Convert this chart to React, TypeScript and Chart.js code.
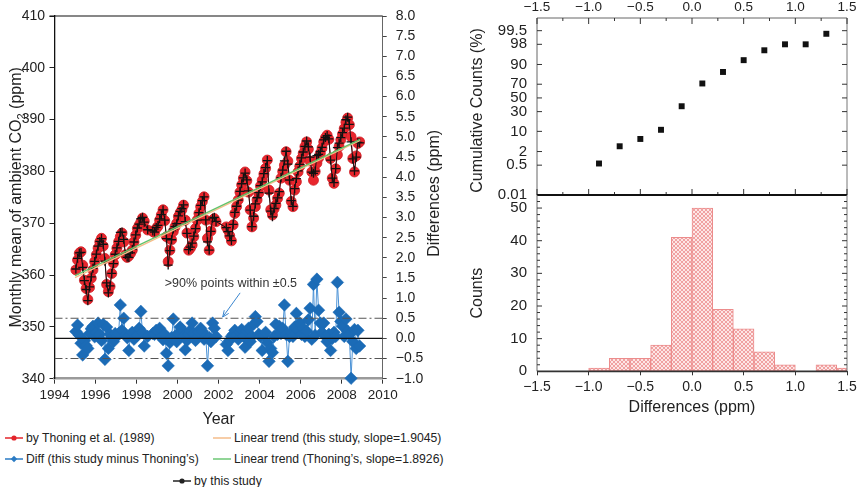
import { useEffect, useRef } from "react"
import { Chart, registerables, type ChartConfiguration, type Plugin } from "chart.js"

Chart.register(...registerables)

const FONT = "'Liberation Sans', Arial, Helvetica, sans-serif"
Chart.defaults.font.family = FONT
Chart.defaults.color = "#222"

// months that have a monthly mean (gaps in 1998, 2001-2002)
const obsMonths = [
  "1995-01", "1995-02", "1995-03", "1995-04", "1995-05", "1995-06", "1995-07", "1995-08", "1995-09", "1995-10", "1995-11", "1995-12",
  "1996-01", "1996-02", "1996-03", "1996-04", "1996-05", "1996-06", "1996-07", "1996-08", "1996-09", "1996-10", "1996-11", "1996-12",
  "1997-01", "1997-02", "1997-03", "1997-04", "1997-05", "1997-06", "1997-07", "1997-08", "1997-09", "1997-10", "1997-11", "1997-12",
  "1998-01", "1998-02", "1998-03", "1998-04", "1998-05", "1998-07", "1998-10", "1998-11", "1998-12",
  "1999-01", "1999-02", "1999-03", "1999-04", "1999-05", "1999-06", "1999-07", "1999-08", "1999-09", "1999-10", "1999-11", "1999-12",
  "2000-01", "2000-02", "2000-03", "2000-04", "2000-05", "2000-06", "2000-07", "2000-08", "2000-09", "2000-10", "2000-11", "2000-12",
  "2001-01", "2001-02", "2001-03", "2001-04", "2001-05", "2001-06", "2001-07", "2001-08", "2001-09", "2001-10", "2001-11",
  "2002-05", "2002-06", "2002-07", "2002-08", "2002-09", "2002-10", "2002-11", "2002-12",
  "2003-01", "2003-02", "2003-03", "2003-04", "2003-05", "2003-06", "2003-07", "2003-08", "2003-09", "2003-10", "2003-11", "2003-12",
  "2004-01", "2004-02", "2004-03", "2004-04", "2004-05", "2004-06", "2004-07", "2004-08", "2004-09", "2004-10", "2004-11", "2004-12",
  "2005-01", "2005-02", "2005-03", "2005-04", "2005-05", "2005-06", "2005-07", "2005-08", "2005-09", "2005-10", "2005-11", "2005-12",
  "2006-01", "2006-02", "2006-03", "2006-04", "2006-05", "2006-06", "2006-07", "2006-08", "2006-09", "2006-10", "2006-11", "2006-12",
  "2007-01", "2007-02", "2007-03", "2007-04", "2007-05", "2007-06", "2007-07", "2007-08", "2007-09", "2007-10", "2007-11", "2007-12",
  "2008-01", "2008-02", "2008-03", "2008-04", "2008-05", "2008-06", "2008-07", "2008-08", "2008-09", "2008-10", "2008-11",
]

// monthly mean CO2 by Thoning et al. (1989), ppm
const thoning = [
  361.0, 362.9, 364.2, 364.5, 361.9, 359.0, 357.4, 355.3, 357.6, 359.4, 361.0, 362.6,
  363.9, 365.2, 366.4, 367.1, 365.6, 363.2, 358.2, 356.8, 357.8, 360.3, 362.3, 363.9,
  365.2, 366.4, 367.4, 368.1, 366.4, 363.9, 363.4, 363.7, 364.2, 364.8, 366.4, 367.7,
  369.0, 369.6, 370.2, 371.0, 370.4, 368.7, 368.4, 368.2, 369.0,
  369.4, 370.6, 371.6, 372.6, 370.5, 367.4, 362.6, 364.8, 366.8, 368.4, 369.3, 370.0,
  371.3, 372.0, 372.6, 373.5, 370.6, 368.1, 364.8, 365.2, 365.8, 367.4, 369.0, 370.6,
  371.9, 373.2, 374.2, 375.1, 370.6, 367.1, 364.8, 368.5, 370.6, 370.9, 370.3,
  369.3, 368.7, 367.6, 366.6, 369.7, 371.9, 373.2, 374.5,
  376.0, 377.4, 378.7, 379.9, 378.2, 376.0, 372.6, 369.3, 371.0, 373.2, 374.5, 375.8,
  377.2, 378.3, 379.5, 380.6, 382.2, 376.4, 372.6, 371.6, 372.8, 373.5, 374.8, 375.8,
  378.7, 380.0, 381.2, 383.8, 382.0, 378.3, 374.2, 373.2, 376.4, 378.0, 379.9, 381.0,
  382.5, 383.5, 384.8, 385.7, 384.3, 382.0, 379.9, 378.3, 380.0, 381.6, 382.6, 383.5,
  384.5, 385.7, 386.5, 387.0, 386.2, 382.5, 378.7, 377.7, 380.5, 383.2, 384.8, 386.1,
  387.2, 388.3, 389.5, 390.3, 389.0, 386.7, 382.5, 379.9, 383.0, 385.4, 385.7,
]

// this study minus Thoning's, ppm
const diffs = [
  0.17, 0.33, 0.08, -0.12, -0.41, -0.06, -0.18, -0.25, 0.12, 0.24, 0.3, 0.04,
  0.15, 0.38, 0.1, -0.05, 0.35, -0.52, 0.28, -0.25, 0.1, 0.02, -0.08, 0.12,
  0.05, 0.12, 0.83, 0.2, 0.5, 0.08, 0.02, -0.3, 0.1, 0.15, -0.02, 0.05,
  0.08, 0.25, 0.67, 0.15, -0.19, 0.05, 0.12, 0.1, 0.2,
  0.18, 0.25, 0.05, -0.03, 0.1, -0.37, -0.68, -0.1, 0.02, 0.48, 0.05, -0.08,
  0.12, 0.28, 0.22, 0.05, -0.28, -0.05, 0.1, 0.2, 0.38, 0.12, -0.05, 0.02,
  0.15, 0.25, 0.18, -0.02, 0.05, -0.68, 0.02, -0.08, 0.38, 0.25, 0.05,
  -0.15, -0.3, -0.05, 0.05, 0.1, 0.2, 0.08, -0.02,
  0.15, 0.22, 0.05, -0.22, 0.18, 0.25, -0.08, 0.05, 0.35, 0.54, 0.42, 0.1,
  0.05, -0.3, 0.08, 0.15, -0.1, -0.57, -0.25, -0.35, 0.05, 0.35, 0.1, 0.3,
  0.12, 0.25, 0.83, 0.1, -0.57, 0.05, 0.15, 0.05, 0.28, 0.62, 0.2, 0.38,
  0.1, 0.25, 0.05, 0.18, 0.46, 0.75, -0.02, 1.34, 0.08, 1.47, 0.7, 0.38,
  0.15, 0.38, 0.05, -0.08, 0.1, -0.3, 0.0, 0.15, 0.05, 1.39, 0.65, 0.42,
  0.3, 0.05, 0.48, 0.18, 0.1, -0.99, -0.08, 0.22, -0.25, 0.2, -0.19,
]

// linear trends: end values
const trendYears = [1995.0, 2008.9]
const trendThisStudy = [359.5, 386.0]
const trendThoning = [359.9, 386.2]
const band = 0.5

// cumulative counts (probability plot) and histogram of the differences
const binCenters = [-0.9, -0.7, -0.5, -0.3, -0.1, 0.1, 0.3, 0.5, 0.7, 0.9, 1.1, 1.3]
const cumulativePct = [0.6, 3.2, 5.8, 11.1, 37.5, 71, 84, 92.6, 96.6, 98, 98, 99.3]
const histCenters = [-0.9, -0.7, -0.5, -0.3, -0.1, 0.1, 0.3, 0.5, 0.7, 0.9, 1.1, 1.3, 1.5]
const histCounts = [1, 4, 4, 8, 41, 50, 19, 13, 6, 2, 0, 2, 1]
const probTicks = [99.5, 98, 90, 70, 50, 30, 10, 2, 0.5, 0.01]

const noteText = ">90% points within \u00b10.5"
const notePos = [2002.6, 1.37]
const arrowFrom = [2003.05, 1.13]
const arrowTo = [2002.2, 0.53]

const toYear = (m: string) => Number(m.slice(0, 4)) + (Number(m.slice(5, 7)) - 0.5) / 12
const signed = (v: number | string) => {
  const n = Number(v)
  return (n < 0 ? "\u2212" : "") + Math.abs(n).toFixed(1)
}

// inverse of the standard normal CDF (Acklam), for the probability axis
function probit(p: number) {
  const a = [-39.69683028665376, 220.9460984245205, -275.9285104469687, 138.357751867269, -30.66479806614716, 2.506628277459239]
  const b = [-54.47609879822406, 161.5858368580409, -155.6989798598866, 66.80131188771972, -13.28068155288572]
  const c = [-0.007784894002430293, -0.3223964580411365, -2.400758277161838, -2.549732539343734, 4.374664141464968, 2.938163982698783]
  const d = [0.007784695709041462, 0.3224671290700398, 2.445134137142996, 3.754408661907416]
  const lo = 0.02425
  if (p < lo) {
    const q = Math.sqrt(-2 * Math.log(p))
    return (((((c[0] * q + c[1]) * q + c[2]) * q + c[3]) * q + c[4]) * q + c[5]) / ((((d[0] * q + d[1]) * q + d[2]) * q + d[3]) * q + 1)
  }
  if (p <= 1 - lo) {
    const q = p - 0.5
    const r = q * q
    return ((((((a[0] * r + a[1]) * r + a[2]) * r + a[3]) * r + a[4]) * r + a[5]) * q) / (((((b[0] * r + b[1]) * r + b[2]) * r + b[3]) * r + b[4]) * r + 1)
  }
  const q = Math.sqrt(-2 * Math.log(1 - p))
  return -(((((c[0] * q + c[1]) * q + c[2]) * q + c[3]) * q + c[4]) * q + c[5]) / ((((d[0] * q + d[1]) * q + d[2]) * q + d[3]) * q + 1)
}

type Part = { text: string; sub?: boolean }
type Area = { left: number; right: number; top: number; bottom: number }
type Edge = "top" | "bottom" | "left" | "right"

// fix an axis box size and drop the label overhang padding Chart.js adds
const fixWidth = (w: number) => (s: any) => {
  s.width = w
  s.paddingTop = 0
  s.paddingBottom = 0
}
const fixHeight = (h: number) => (s: any) => {
  s.height = h
  s.paddingLeft = 0
  s.paddingRight = 0
}

function drawRotated(ctx: CanvasRenderingContext2D, parts: Part[], cx: number, cy: number, size: number) {
  ctx.save()
  ctx.translate(cx, cy)
  ctx.rotate(-Math.PI / 2)
  ctx.fillStyle = "#222"
  ctx.textBaseline = "middle"
  ctx.textAlign = "left"
  const fontOf = (p: Part) => `${p.sub ? size * 0.68 : size}px ${FONT}`
  let total = 0
  const widths = parts.map((p) => {
    ctx.font = fontOf(p)
    const w = ctx.measureText(p.text).width
    total += w
    return w
  })
  let x = -total / 2
  parts.forEach((p, i) => {
    ctx.font = fontOf(p)
    ctx.fillText(p.text, x, p.sub ? size * 0.3 : 0)
    x += widths[i]
  })
  ctx.restore()
}

interface DecorSpec {
  frame?: { edge: Edge; color: string; width: number; ext?: number }[]
  ticks?: { axis: string; values: number[]; edges: Edge[]; len: number }[]
  titles?: { parts: Part[]; x: (a: Area) => number; y: (a: Area) => number; size: number }[]
  extra?: (chart: Chart) => void
}

function decor(id: string, spec: DecorSpec): Plugin {
  return {
    id,
    afterDraw(chart) {
      const { ctx } = chart
      const a = chart.chartArea
      ctx.save()
      for (const f of spec.frame ?? []) {
        ctx.strokeStyle = f.color
        ctx.lineWidth = f.width
        ctx.beginPath()
        const e = f.ext ?? 0
        if (f.edge === "top") { ctx.moveTo(a.left - e, a.top); ctx.lineTo(a.right, a.top) }
        if (f.edge === "bottom") { ctx.moveTo(a.left, a.bottom); ctx.lineTo(a.right, a.bottom) }
        if (f.edge === "left") { ctx.moveTo(a.left, a.top); ctx.lineTo(a.left, a.bottom) }
        if (f.edge === "right") { ctx.moveTo(a.right, a.top); ctx.lineTo(a.right, a.bottom) }
        ctx.stroke()
      }
      ctx.strokeStyle = "#333"
      ctx.lineWidth = 1
      for (const t of spec.ticks ?? []) {
        const scale = chart.scales[t.axis]
        ctx.beginPath()
        for (const v of t.values) {
          const p = scale.getPixelForValue(v)
          for (const edge of t.edges) {
            if (edge === "top") { ctx.moveTo(p, a.top); ctx.lineTo(p, a.top + t.len) }
            if (edge === "bottom") { ctx.moveTo(p, a.bottom); ctx.lineTo(p, a.bottom - t.len) }
            if (edge === "left") { ctx.moveTo(a.left, p); ctx.lineTo(a.left + t.len, p) }
            if (edge === "right") { ctx.moveTo(a.right, p); ctx.lineTo(a.right - t.len, p) }
          }
        }
        ctx.stroke()
      }
      for (const t of spec.titles ?? []) drawRotated(ctx, t.parts, t.x(a), t.y(a), t.size)
      spec.extra?.(chart)
      ctx.restore()
    },
  }
}

function timeSeriesConfig(): ChartConfiguration<"line"> {
  const times = obsMonths.map(toYear)
  const thisStudy = thoning.map((v, i) => v + diffs[i]) // "this study" = Thoning's + difference
  const hline = (y: number) => [{ x: 1994, y }, { x: 2010, y }]
  return {
    type: "line",
    data: {
      datasets: [
        { data: hline(0), yAxisID: "y2", borderColor: "#111", borderWidth: 1.2, pointRadius: 0, order: -2 },
        { data: hline(band), yAxisID: "y2", borderColor: "#555", borderWidth: 1.1, borderDash: [8, 3, 2, 3], pointRadius: 0, order: -1 },
        { data: hline(-band), yAxisID: "y2", borderColor: "#555", borderWidth: 1.1, borderDash: [8, 3, 2, 3], pointRadius: 0, order: -1 },
        { data: trendYears.map((x, i) => ({ x, y: trendThoning[i] })), yAxisID: "y", borderColor: "#62c36a", borderWidth: 1.3, pointRadius: 0, order: 0 },
        { data: trendYears.map((x, i) => ({ x, y: trendThisStudy[i] })), yAxisID: "y", borderColor: "#f5bd8a", borderWidth: 1.3, pointRadius: 0, order: 1 },
        {
          data: times.map((x, i) => ({ x, y: thisStudy[i] })), yAxisID: "y", borderColor: "#111", borderWidth: 1,
          pointStyle: "cross", pointRadius: 4.5, pointBorderColor: "#111", pointBorderWidth: 1.3, order: 2, clip: false,
        },
        {
          data: times.map((x, i) => ({ x, y: thoning[i] })), yAxisID: "y", borderColor: "#e3242b", borderWidth: 1,
          pointStyle: "circle", pointRadius: 5, pointBackgroundColor: "#e8262d", pointBorderColor: "#cf1d24", pointBorderWidth: 0.8,
          order: 3, clip: false,
        },
        {
          data: times.map((x, i) => ({ x, y: diffs[i] })), yAxisID: "y2", borderColor: "#4b92d6", borderWidth: 1,
          pointStyle: "rectRot", pointRadius: 6.3, pointBackgroundColor: "#1b6bb6", pointBorderColor: "#1b6bb6", pointBorderWidth: 0.5,
          order: 4, clip: false,
        },
      ],
    },
    options: {
      responsive: false,
      animation: false,
      layout: { autoPadding: false, padding: { top: 16, left: 0, right: 0, bottom: 0 } },
      plugins: { legend: { display: false }, tooltip: { enabled: false } },
      scales: {
        x: {
          type: "linear", min: 1994, max: 2010,
          afterFit: fixHeight(51.3),
          ticks: { stepSize: 2, autoSkip: false, maxRotation: 0, padding: 3, font: { size: 13.5 }, callback: (v) => String(v) },
          grid: { drawOnChartArea: false, tickLength: 5, color: "#333" },
          border: { color: "#9a9a9a", width: 2.5 },
          title: { display: true, text: "Year", font: { size: 16 }, padding: { top: 0, bottom: 0.4 } },
        },
        y: {
          position: "left", min: 340, max: 410,
          afterFit: fixWidth(54.5),
          ticks: { stepSize: 10, padding: 4.5, font: { size: 14 } },
          grid: { drawOnChartArea: false, tickLength: 5, color: "#222" },
          border: { color: "#111", width: 1.3 },
        },
        y2: {
          position: "right", min: -1, max: 8,
          afterFit: fixWidth(62.3),
          ticks: { stepSize: 0.5, autoSkip: false, padding: 9, font: { size: 14 }, callback: (v) => signed(v) },
          grid: { drawOnChartArea: false, tickLength: 4, color: "#444" },
          border: { color: "#666", width: 1 },
        },
      },
    },
    plugins: [
      decor("left", {
        frame: [{ edge: "top", color: "#111", width: 1.2, ext: 5 }],
        titles: [
          { parts: [{ text: "Monthly mean of ambient CO" }, { text: "2", sub: true }, { text: " (ppm)" }], x: (a) => a.left - 37.5, y: (a) => (a.top + a.bottom) / 2, size: 16 },
          { parts: [{ text: "Differences (ppm)" }], x: (a) => a.right + 52.3, y: (a) => (a.top + a.bottom) / 2 - 4, size: 16 },
        ],
        extra: (chart) => {
          const { ctx } = chart
          const sx = chart.scales.x
          const sy = chart.scales.y2
          ctx.fillStyle = "#333"
          ctx.font = `12.5px ${FONT}`
          ctx.textAlign = "center"
          ctx.textBaseline = "middle"
          ctx.fillText(noteText, sx.getPixelForValue(notePos[0]), sy.getPixelForValue(notePos[1]))
          const x0 = sx.getPixelForValue(arrowFrom[0])
          const y0 = sy.getPixelForValue(arrowFrom[1])
          const x1 = sx.getPixelForValue(arrowTo[0])
          const y1 = sy.getPixelForValue(arrowTo[1])
          const ang = Math.atan2(y1 - y0, x1 - x0)
          ctx.strokeStyle = "#3a86cf"
          ctx.lineWidth = 1
          ctx.beginPath()
          ctx.moveTo(x0, y0)
          ctx.lineTo(x1, y1)
          for (const s of [-1, 1]) {
            ctx.moveTo(x1, y1)
            ctx.lineTo(x1 - 7 * Math.cos(ang + s * 0.4), y1 - 7 * Math.sin(ang + s * 0.4))
          }
          ctx.stroke()
        },
      }),
    ],
  }
}

const zMin = probit(0.0001)
const zMax = probit(0.9989)
const quarterMajor = [-1.5, -1, -0.5, 0, 0.5, 1, 1.5]
const quarterMinor = [-1.25, -0.75, -0.25, 0.25, 0.75, 1.25]

function probabilityConfig(): ChartConfiguration<"scatter"> {
  return {
    type: "scatter",
    data: {
      datasets: [{
        data: binCenters.map((x, i) => ({ x, y: probit(cumulativePct[i] / 100) })),
        pointStyle: "rect", pointRadius: 4.2, backgroundColor: "#111", borderColor: "#111", borderWidth: 0,
      }],
    },
    options: {
      responsive: false,
      animation: false,
      layout: { autoPadding: false, padding: { left: 0, right: 13, top: 0, bottom: 17 } },
      plugins: { legend: { display: false }, tooltip: { enabled: false } },
      scales: {
        x: {
          type: "linear", position: "top", min: -1.5, max: 1.5,
          afterFit: fixHeight(18),
          ticks: { stepSize: 0.5, autoSkip: false, maxRotation: 0, padding: 3, font: { size: 13.5 }, callback: (v) => signed(v) },
          grid: { drawOnChartArea: false, drawTicks: false },
          border: { display: false },
        },
        y: {
          type: "linear", min: zMin, max: zMax,
          afterFit: fixWidth(107),
          afterBuildTicks: (s) => { s.ticks = probTicks.map((p) => ({ value: probit(p / 100) })) },
          ticks: { autoSkip: false, padding: 10, font: { size: 15 }, callback: (_v, i) => String(probTicks[i]) },
          grid: { drawOnChartArea: false, drawTicks: false },
          border: { display: false },
        },
      },
    },
    plugins: [
      decor("prob", {
        frame: [
          { edge: "top", color: "#666", width: 1 },
          { edge: "left", color: "#666", width: 1 },
          { edge: "right", color: "#777", width: 1 },
          { edge: "bottom", color: "#111", width: 1.8 },
        ],
        ticks: [
          { axis: "x", values: quarterMajor, edges: ["top", "bottom"], len: 6 },
          { axis: "x", values: quarterMinor, edges: ["top", "bottom"], len: 3 },
          { axis: "y", values: probTicks.map((p) => probit(p / 100)), edges: ["left", "right"], len: 5 },
        ],
        titles: [{ parts: [{ text: "Cumulative Counts (%)" }], x: (a) => a.left - 59, y: (a) => (a.top + a.bottom) / 2 + 4, size: 16 }],
      }),
    ],
  }
}

const countMinor = [2, 4, 6, 8, 12, 14, 16, 18, 22, 24, 26, 28, 32, 34, 36, 38, 42, 44, 46, 48, 52]
const countMajor = [10, 20, 30, 40, 50]

function histogramConfig(fill: CanvasPattern | string): ChartConfiguration<"bar"> {
  return {
    type: "bar",
    data: {
      datasets: [{
        data: histCenters.map((x, i) => ({ x, y: histCounts[i] })),
        backgroundColor: fill, borderColor: "#ec8c8c", borderWidth: 1, borderSkipped: false,
        barPercentage: 1, categoryPercentage: 1,
      }],
    },
    options: {
      responsive: false,
      animation: false,
      layout: { autoPadding: false, padding: { left: 0, right: 13, top: 1, bottom: 0 } },
      plugins: { legend: { display: false }, tooltip: { enabled: false } },
      scales: {
        x: {
          type: "linear", min: -1.5, max: 1.5, offset: false,
          afterFit: fixHeight(52.7),
          ticks: { stepSize: 0.5, autoSkip: false, maxRotation: 0, padding: 3.6, font: { size: 14 }, callback: (v) => signed(v) },
          grid: { drawOnChartArea: false, tickLength: 4, color: "#333", offset: false },
          border: { display: false },
          title: { display: true, text: "Differences (ppm)", font: { size: 16 }, padding: { top: 0, bottom: 6.4 } },
        },
        y: {
          min: 0, max: 54,
          afterFit: fixWidth(107),
          ticks: { stepSize: 10, includeBounds: false, padding: 10, font: { size: 15 } },
          grid: { drawOnChartArea: false, drawTicks: false },
          border: { display: false },
        },
      },
    },
    plugins: [
      decor("hist", {
        frame: [
          { edge: "top", color: "#111", width: 1.8 },
          { edge: "left", color: "#666", width: 1 },
          { edge: "right", color: "#777", width: 1 },
          { edge: "bottom", color: "#333", width: 1.8 },
        ],
        ticks: [
          { axis: "y", values: countMinor, edges: ["left", "right"], len: 3 },
          { axis: "y", values: countMajor, edges: ["left", "right"], len: 5 },
        ],
        titles: [{ parts: [{ text: "Counts" }], x: (a) => a.left - 59, y: (a) => (a.top + a.bottom) / 2 + 10, size: 16 }],
      }),
    ],
  }
}

function hatch(): CanvasPattern | string {
  const c = document.createElement("canvas")
  c.width = 4
  c.height = 4
  const g = c.getContext("2d")
  if (!g) return "#f6c6c6"
  g.fillStyle = "#fde6e6"
  g.fillRect(0, 0, 4, 4)
  g.strokeStyle = "#f0a2a2"
  g.lineWidth = 1
  g.beginPath()
  g.moveTo(0, 0)
  g.lineTo(4, 4)
  g.moveTo(4, 0)
  g.lineTo(0, 4)
  g.stroke()
  return g.createPattern(c, "repeat") ?? "#f6c6c6"
}

function ChartCanvas({ left, top, width, height, make }: {
  left: number; top: number; width: number; height: number; make: () => ChartConfiguration<any>
}) {
  const ref = useRef<HTMLCanvasElement>(null)
  useEffect(() => {
    if (!ref.current) return
    const chart = new Chart(ref.current, make())
    return () => chart.destroy()
  }, [])
  return <canvas ref={ref} width={width} height={height} style={{ position: "absolute", left, top, width, height }} />
}

const legendItems = [
  { label: "by Thoning et al. (1989)", color: "#e3242b", marker: "circle", left: 5, y: 438 },
  { label: "Diff (this study minus Thoning\u2019s)", color: "#2b7bc4", marker: "diamond", left: 5, y: 459 },
  { label: "Linear trend (this study, slope=1.9045)", color: "#f5bd8a", marker: "none", left: 213, y: 438 },
  { label: "Linear trend (Thoning\u2019s, slope=1.8926)", color: "#6cc774", marker: "none", left: 213, y: 459 },
  { label: "by this study", color: "#222", marker: "circle", left: 173, y: 481 },
]

function Legend() {
  return (
    <>
      {legendItems.map((it) => (
        <div key={it.label} style={{ position: "absolute", left: it.left, top: it.y - 8, height: 16, display: "flex", alignItems: "center", whiteSpace: "nowrap" }}>
          <svg width={18} height={10}>
            <line x1={0} y1={5} x2={18} y2={5} stroke={it.color} strokeWidth={1.5} />
            {it.marker === "circle" && <circle cx={9} cy={5} r={2.6} fill={it.color} />}
            {it.marker === "diamond" && <polygon points="9,1.8 12.2,5 9,8.2 5.8,5" fill={it.color} />}
          </svg>
          <span style={{ marginLeft: 3, fontFamily: FONT, fontSize: 12.2, color: "#222", lineHeight: "16px" }}>{it.label}</span>
        </div>
      ))}
    </>
  )
}

export default function App() {
  return (
    <div style={{ position: "absolute", left: 0, top: 0, width: 860, height: 487, background: "#fff", overflow: "hidden" }}>
      <ChartCanvas left={0} top={0} width={445} height={430} make={timeSeriesConfig} />
      <ChartCanvas left={430} top={0} width={430} height={212} make={probabilityConfig} />
      <ChartCanvas left={430} top={194} width={430} height={230} make={() => histogramConfig(hatch())} />
      <Legend />
    </div>
  )
}
